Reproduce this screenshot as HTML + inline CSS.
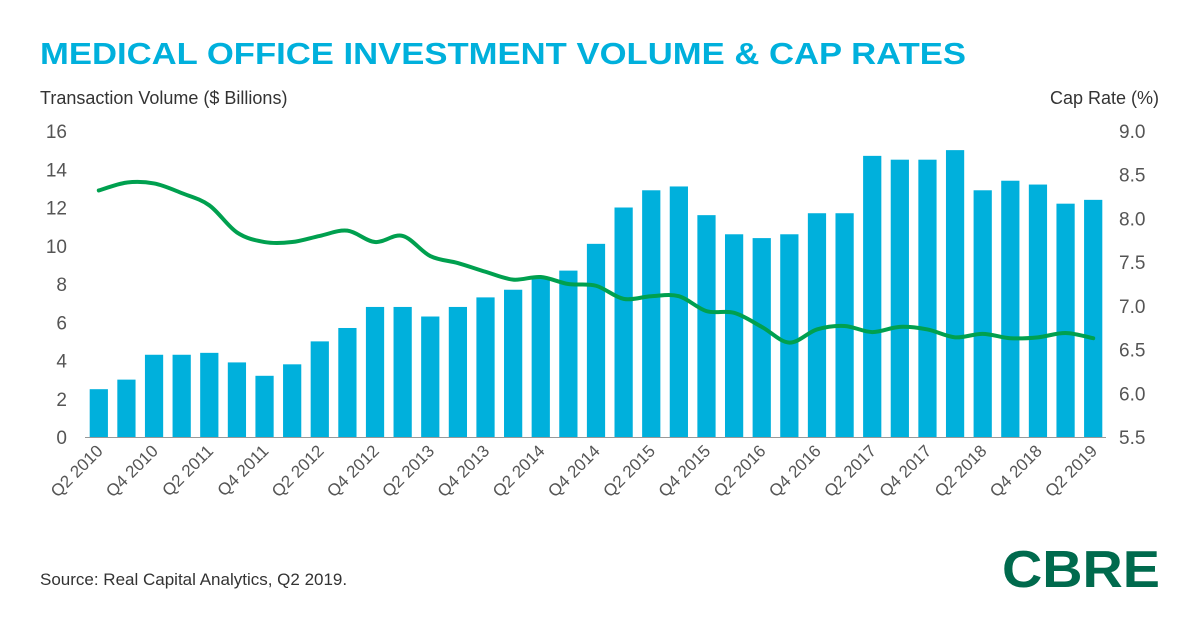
<!DOCTYPE html>
<html><head><meta charset="utf-8"><style>
html,body{margin:0;padding:0;background:#fff;}
svg{display:block;font-family:"Liberation Sans",sans-serif;}
</style></head><body>
<svg id="chart" width="1200" height="627" viewBox="0 0 1200 627" xmlns="http://www.w3.org/2000/svg">
<text x="40" y="64" font-size="31" font-weight="bold" fill="#00b0dc" textLength="926" lengthAdjust="spacingAndGlyphs">MEDICAL OFFICE INVESTMENT VOLUME &amp; CAP RATES</text>
<text x="40" y="104" font-size="18" fill="#333">Transaction Volume ($ Billions)</text>
<text x="1159" y="104" font-size="18" fill="#333" text-anchor="end">Cap Rate (%)</text>
<g id="bars"></g>
<line x1="85" y1="437.5" x2="1106" y2="437.5" stroke="#999" stroke-width="1"/>
<path id="capline" fill="none" stroke="#00a04f" stroke-width="4" stroke-linecap="round"/>
<g id="yleft"></g>
<g id="yright"></g>
<g id="xlabels"></g>
<text x="40" y="585" font-size="17" fill="#333">Source: Real Capital Analytics, Q2 2019.</text>
<text x="1160" y="587" font-size="52" font-weight="bold" fill="#006a4d" text-anchor="end" textLength="158" lengthAdjust="spacingAndGlyphs">CBRE</text>
</svg>
<script>
const quarters = (function(){const a=[];for(let y=2010;y<=2019;y++)for(let q=1;q<=4;q++){if((y===2010&&q<2)||(y===2019&&q>2))continue;a.push('Q'+q+' '+y);}return a;})();
const volume = [2.5,3.0,4.3,4.3,4.4,3.9,3.2,3.8,5.0,5.7,6.8,6.8,6.3,6.8,7.3,7.7,8.3,8.7,10.1,12.0,12.9,13.1,11.6,10.6,10.4,10.6,11.7,11.7,14.7,14.5,14.5,15.0,12.9,13.4,13.2,12.2,12.4];
const capRate = [8.32,8.41,8.40,8.29,8.15,7.84,7.73,7.73,7.80,7.86,7.73,7.80,7.57,7.49,7.39,7.30,7.33,7.25,7.23,7.08,7.11,7.11,6.94,6.92,6.76,6.58,6.73,6.77,6.70,6.76,6.73,6.64,6.68,6.63,6.64,6.69,6.63];
const leftTicks = [0,2,4,6,8,10,12,14,16];
const rightTicks = [5.5,6.0,6.5,7.0,7.5,8.0,8.5,9.0];

const NS='http://www.w3.org/2000/svg';
const x0=85,x1=1107,yB=437,yT=131;
const pitch=(x1-x0)/quarters.length;
const xc=i=>x0+pitch*(i+0.5);
const yL=v=>yB-(v-0)/(16-0)*(yB-yT);
const yR=v=>yB-(v-5.5)/(9.0-5.5)*(yB-yT);
function mk(t,attrs,parent,txt){const e=document.createElementNS(NS,t);for(const k in attrs)e.setAttribute(k,attrs[k]);if(txt!==undefined)e.textContent=txt;parent.appendChild(e);return e;}

const bars=document.getElementById('bars');
volume.forEach((v,i)=>{
  const bw=pitch*0.66;
  const r=mk('rect',{x:xc(i)-bw/2,y:yL(v),width:bw,height:yB-yL(v),fill:'#00b0dc'},bars);
  
  
});

const pts=capRate.map((v,i)=>[xc(i),yR(v)]);
let d='M'+pts[0][0]+','+pts[0][1];
for(let i=0;i<pts.length-1;i++){
  const p0=pts[Math.max(0,i-1)],p1=pts[i],p2=pts[i+1],p3=pts[Math.min(pts.length-1,i+2)];
  const c1=[p1[0]+(p2[0]-p0[0])/6,p1[1]+(p2[1]-p0[1])/6];
  const c2=[p2[0]-(p3[0]-p1[0])/6,p2[1]-(p3[1]-p1[1])/6];
  d+=' C'+c1[0]+','+c1[1]+' '+c2[0]+','+c2[1]+' '+p2[0]+','+p2[1];
}
document.getElementById('capline').setAttribute('d',d);

const yl=document.getElementById('yleft');
leftTicks.forEach(v=>{
  const t=mk('text',{x:67,y:yL(v)+7,'font-size':19,fill:'#555','text-anchor':'end'},yl,String(v));
  
  
});
const yr=document.getElementById('yright');
rightTicks.forEach(v=>{
  const t=mk('text',{x:1119,y:yR(v)+7,'font-size':19,fill:'#555'},yr,v.toFixed(1));
  
  
});
const xl=document.getElementById('xlabels');
quarters.forEach((q,i)=>{
  if(i%2!==0)return;
  const x=xc(i)+5,y=452;
  const t=mk('text',{x:x,y:y,'font-size':17,fill:'#555','text-anchor':'end',transform:'rotate(-45 '+x+' '+y+')'},xl,q);
  
  
});
</script>
</body></html>
